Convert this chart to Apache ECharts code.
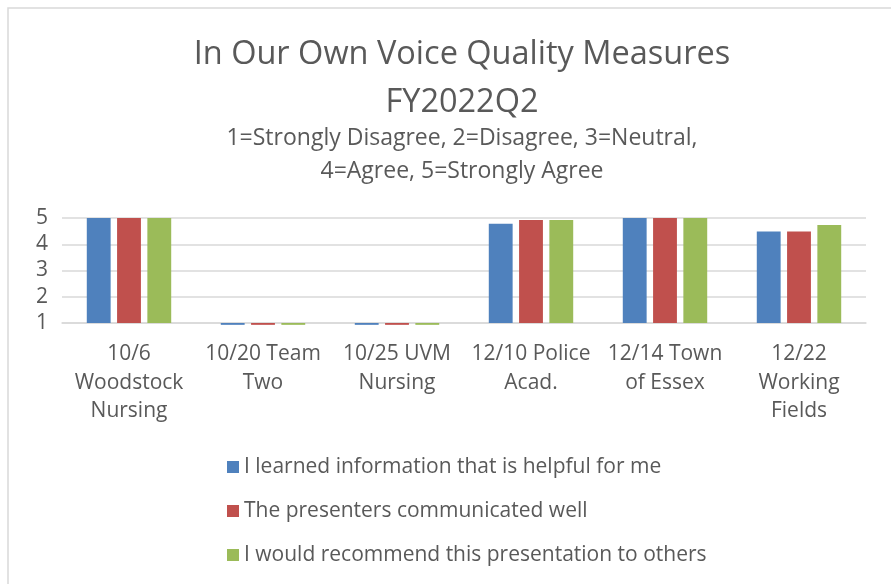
<!DOCTYPE html>
<html>
<head>
<meta charset="utf-8">
<script src="https://cdn.jsdelivr.net/npm/echarts@6/dist/echarts.min.js"></script>
<style>
    html, body { margin: 0; padding: 0; background: #fff; }
    #chart { width: 891px; height: 584px; }
</style>
</head>
<body>
<div id="chart"></div>
<script>
// Survey ratings per event (1-5 scale); axis starts at 1
const categories = [
    '10/6\nWoodstock\nNursing',
    '10/20 Team\nTwo',
    '10/25 UVM\nNursing',
    '12/10 Police\nAcad.',
    '12/14 Town\nof Essex',
    '12/22\nWorking\nFields'
];
const seriesNames = [
    'I learned information that is helpful for me',
    'The presenters communicated well',
    'I would recommend this presentation to others'
];
const learned = [5, 0.93, 0.93, 4.78, 5, 4.49];
const communicated = [5, 0.93, 0.93, 4.92, 5, 4.49];
const recommend = [5, 0.93, 0.93, 4.92, 5, 4.73];
const colors = ['#4f81bd', '#c0504d', '#9bbb59'];
const axisBase = 1;   // bars grow from the "1" line

const FONT = '"Open Sans", "Noto Sans", sans-serif';
const TEXT = '#595959';

const chart = echarts.init(document.getElementById('chart'));

const makeSeries = (name, values, color) => ({
    name: name,
    type: 'bar',
    clip: false,
    barGap: '27%',
    barCategoryGap: '37%',
    itemStyle: { color: color },
    data: values.map(v => +(v - axisBase).toFixed(2))
});

chart.setOption({
    animation: false,
    textStyle: { fontFamily: FONT },
    title: [{
        text: 'In Our Own Voice Quality Measures\nFY2022Q2',
        left: 457,
        top: 26,
        textAlign: 'center',
        textStyle: { fontFamily: FONT, fontSize: 32.5, fontWeight: 'normal', color: TEXT, lineHeight: 48 }
    }, {
        text: '1=Strongly Disagree, 2=Disagree, 3=Neutral,\n4=Agree, 5=Strongly Agree',
        left: 457,
        top: 117,
        textAlign: 'center',
        textStyle: { fontFamily: FONT, fontSize: 23, fontWeight: 'normal', color: TEXT, lineHeight: 33 }
    }],
    graphic: [{
        type: 'rect',
        shape: { x: 8, y: 8, width: 920, height: 620 },
        style: { fill: 'none', stroke: '#d9d9d9', lineWidth: 1.5 },
        silent: true
    }],
    legend: {
        orient: 'vertical',
        left: 222,
        top: 450,
        itemWidth: 12,
        itemHeight: 12,
        itemGap: 20,
        icon: 'rect',
        textStyle: { fontFamily: FONT, fontSize: 21, color: TEXT, lineHeight: 24 },
        data: seriesNames
    },
    grid: { left: 62, right: 25, top: 218, bottom: 261 },
    xAxis: {
        type: 'category',
        data: categories,
        axisLine: { show: true, lineStyle: { color: '#d9d9d9', width: 1.5 } },
        axisTick: { show: false },
        axisLabel: {
            interval: 0,
            margin: 17,
            fontFamily: FONT,
            fontSize: 21,
            lineHeight: 28.5,
            color: TEXT
        }
    },
    yAxis: {
        type: 'value',
        min: 0,
        max: 4,
        interval: 1,
        axisLine: { show: false },
        axisTick: { show: false },
        splitLine: { lineStyle: { color: '#d9d9d9', width: 1.5 } },
        axisLabel: {
            margin: 14,
            fontFamily: FONT,
            fontSize: 21,
            color: TEXT,
            formatter: v => String(v + axisBase)
        }
    },
    series: [
        makeSeries(seriesNames[0], learned, colors[0]),
        makeSeries(seriesNames[1], communicated, colors[1]),
        makeSeries(seriesNames[2], recommend, colors[2])
    ]
});

window.addEventListener('resize', () => {
    chart.resize();
});
</script>
</body>
</html>
